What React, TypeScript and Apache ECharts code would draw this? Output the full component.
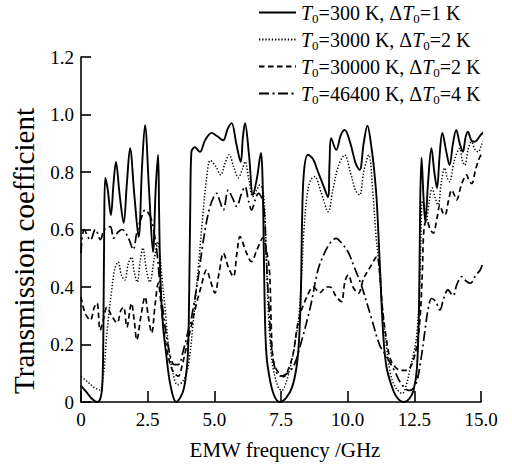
import React, { useEffect, useRef } from 'react';
import * as echarts from 'echarts';

const temps = ['300', '3000', '30000', '46400'];
const deltas = ['1', '2', '2', '4'];

const curveT300: number[][] = [
  [0, 0.056], [0.2, 0.035], [0.4, 0.012], [0.6, 0.0], [0.72, 0.01], [0.8, 0.06], [0.84, 0.25], [0.87, 0.6], [0.91, 0.78],
  [1.0, 0.74], [1.12, 0.65], [1.22, 0.76], [1.31, 0.835], [1.45, 0.72], [1.6, 0.623], [1.72, 0.76], [1.84, 0.883],
  [2.0, 0.72], [2.16, 0.574], [2.29, 0.82], [2.4, 0.963], [2.55, 0.74], [2.7, 0.522], [2.8, 0.74], [2.89, 0.86],
  [2.93, 0.65], [2.98, 0.42], [3.08, 0.26], [3.19, 0.17], [3.35, 0.06], [3.57, 0.0], [3.8, 0.03], [3.92, 0.08],
  [4.01, 0.17], [4.06, 0.4], [4.1, 0.7], [4.14, 0.87], [4.27, 0.886], [4.46, 0.87], [4.65, 0.91], [4.9, 0.936],
  [5.1, 0.925], [5.33, 0.91], [5.5, 0.95], [5.65, 0.97], [5.82, 0.9], [5.99, 0.835], [6.07, 0.92], [6.15, 0.97],
  [6.3, 0.86], [6.45, 0.72], [6.6, 0.78], [6.75, 0.866], [6.8, 0.8], [6.84, 0.63], [6.88, 0.38], [6.95, 0.17],
  [7.1, 0.07], [7.28, 0.015], [7.46, 0.0], [7.7, 0.015], [7.91, 0.05], [8.08, 0.12], [8.18, 0.22], [8.25, 0.4],
  [8.29, 0.63], [8.36, 0.8], [8.51, 0.86], [8.7, 0.845], [8.89, 0.8], [9.1, 0.75], [9.26, 0.713], [9.32, 0.83],
  [9.38, 0.918], [9.57, 0.877], [9.75, 0.93], [9.89, 0.946], [10.1, 0.9], [10.3, 0.83], [10.45, 0.807], [10.6, 0.9],
  [10.74, 0.961], [10.9, 0.88], [11.0, 0.8], [11.09, 0.7], [11.21, 0.47], [11.33, 0.24], [11.46, 0.12], [11.71, 0.04],
  [11.9, 0.01], [12.1, 0.0], [12.3, 0.01], [12.47, 0.04], [12.6, 0.12], [12.68, 0.355], [12.72, 0.7], [12.77, 0.85],
  [12.84, 0.72], [12.91, 0.627], [13.02, 0.77], [13.14, 0.883], [13.25, 0.8], [13.35, 0.744], [13.45, 0.86],
  [13.55, 0.936], [13.7, 0.87], [13.82, 0.824], [13.95, 0.9], [14.07, 0.946], [14.2, 0.9], [14.32, 0.87], [14.42, 0.92],
  [14.51, 0.94], [14.64, 0.91], [14.76, 0.905], [15.0, 0.93], [15.26, 0.953],
];

const curveT3000: number[][] = [
  [0, 0.088], [0.25, 0.07], [0.5, 0.05], [0.7, 0.042], [0.85, 0.1], [0.95, 0.22], [1.05, 0.31], [1.14, 0.38],
  [1.26, 0.46], [1.39, 0.487], [1.52, 0.44], [1.64, 0.424], [1.77, 0.48], [1.89, 0.504], [2.0, 0.45], [2.11, 0.417],
  [2.22, 0.49], [2.32, 0.536], [2.45, 0.46], [2.58, 0.417], [2.75, 0.5], [2.89, 0.557], [2.97, 0.5], [3.05, 0.42],
  [3.14, 0.337], [3.3, 0.18], [3.45, 0.1], [3.62, 0.06], [3.8, 0.07], [3.95, 0.1], [4.05, 0.14], [4.2, 0.27],
  [4.4, 0.47], [4.55, 0.63], [4.7, 0.77], [4.85, 0.84], [5.05, 0.82], [5.24, 0.79], [5.4, 0.83], [5.56, 0.86],
  [5.72, 0.82], [5.9, 0.78], [6.05, 0.81], [6.15, 0.836], [6.3, 0.77], [6.44, 0.714], [6.6, 0.74], [6.71, 0.755],
  [6.85, 0.72], [6.95, 0.5], [7.03, 0.3], [7.12, 0.18], [7.22, 0.11], [7.4, 0.05], [7.53, 0.04], [7.7, 0.07],
  [7.91, 0.146], [8.05, 0.22], [8.16, 0.285], [8.28, 0.45], [8.36, 0.6], [8.48, 0.72], [8.6, 0.77], [8.76, 0.784],
  [9.0, 0.73], [9.27, 0.662], [9.45, 0.74], [9.65, 0.82], [9.89, 0.859], [10.1, 0.8], [10.3, 0.735], [10.45, 0.72],
  [10.6, 0.8], [10.79, 0.859], [10.95, 0.72], [11.07, 0.57], [11.15, 0.5], [11.28, 0.35], [11.4, 0.24], [11.6, 0.1],
  [11.8, 0.05], [12.05, 0.03], [12.2, 0.06], [12.35, 0.12], [12.5, 0.18], [12.6, 0.24], [12.68, 0.36], [12.72, 0.47],
  [12.76, 0.62], [12.8, 0.7], [12.87, 0.68], [12.95, 0.627], [13.06, 0.7], [13.17, 0.744], [13.28, 0.71],
  [13.39, 0.685], [13.52, 0.77], [13.64, 0.814], [13.73, 0.78], [13.82, 0.766], [14.0, 0.84], [14.2, 0.882],
  [14.3, 0.84], [14.39, 0.824], [14.52, 0.88], [14.64, 0.905], [14.77, 0.88], [14.89, 0.87], [15.05, 0.9], [15.26, 0.929],
];

const curveT30000: number[][] = [
  [0, 0.366], [0.15, 0.31], [0.35, 0.285], [0.5, 0.33], [0.6, 0.344], [0.72, 0.25], [0.85, 0.29], [0.97, 0.33],
  [1.15, 0.3], [1.35, 0.275], [1.5, 0.32], [1.6, 0.33], [1.72, 0.26], [1.89, 0.344], [2.0, 0.28], [2.09, 0.216],
  [2.25, 0.3], [2.4, 0.366], [2.52, 0.3], [2.65, 0.24], [2.78, 0.34], [2.9, 0.414], [2.98, 0.36], [3.08, 0.27],
  [3.2, 0.19], [3.35, 0.13], [3.5, 0.1], [3.65, 0.09], [3.8, 0.13], [3.95, 0.19], [4.1, 0.25], [4.3, 0.33],
  [4.5, 0.4], [4.71, 0.459], [4.86, 0.42], [5.02, 0.379], [5.18, 0.45], [5.34, 0.518], [5.52, 0.47], [5.71, 0.436],
  [5.85, 0.52], [5.96, 0.575], [6.2, 0.52], [6.39, 0.488], [6.6, 0.53], [6.82, 0.57], [6.95, 0.53], [7.07, 0.453],
  [7.13, 0.28], [7.2, 0.15], [7.35, 0.11], [7.6, 0.088], [7.8, 0.12], [7.96, 0.17], [8.16, 0.285], [8.47, 0.366],
  [8.72, 0.4], [8.95, 0.38], [9.2, 0.4], [9.34, 0.4], [9.55, 0.37], [9.76, 0.349], [9.9, 0.42], [10.02, 0.442],
  [10.2, 0.4], [10.4, 0.378], [10.6, 0.43], [10.85, 0.47], [11.09, 0.505], [11.2, 0.45], [11.3, 0.33], [11.45, 0.22],
  [11.6, 0.15], [11.8, 0.12], [12.0, 0.11], [12.2, 0.11], [12.4, 0.13], [12.6, 0.2], [12.72, 0.3], [12.8, 0.45],
  [12.86, 0.6], [12.96, 0.633], [13.1, 0.6], [13.21, 0.587], [13.35, 0.64], [13.46, 0.685], [13.56, 0.66],
  [13.65, 0.65], [13.78, 0.7], [13.9, 0.737], [14.0, 0.72], [14.08, 0.703], [14.28, 0.76], [14.46, 0.79],
  [14.55, 0.77], [14.65, 0.76], [14.8, 0.81], [14.96, 0.853], [15.1, 0.87], [15.26, 0.9],
];

const curveT46400: number[][] = [
  [0, 0.518], [0.12, 0.6], [0.35, 0.563], [0.54, 0.6], [0.73, 0.565], [0.87, 0.6], [1.1, 0.61], [1.22, 0.57],
  [1.38, 0.59], [1.54, 0.6], [1.78, 0.57], [1.96, 0.53], [2.09, 0.588], [2.28, 0.645], [2.4, 0.668], [2.6, 0.645],
  [2.72, 0.6], [2.85, 0.52], [2.95, 0.42], [3.1, 0.3], [3.3, 0.18], [3.5, 0.13], [3.65, 0.13], [3.84, 0.18],
  [4.0, 0.24], [4.15, 0.297], [4.4, 0.436], [4.59, 0.563], [4.84, 0.68], [5.09, 0.726], [5.2, 0.7], [5.34, 0.668],
  [5.52, 0.737], [5.68, 0.71], [5.84, 0.68], [6.0, 0.72], [6.15, 0.749], [6.28, 0.7], [6.4, 0.668], [6.52, 0.7],
  [6.65, 0.726], [6.84, 0.69], [6.95, 0.5], [7.05, 0.33], [7.2, 0.15], [7.45, 0.09], [7.75, 0.1], [8.0, 0.13],
  [8.25, 0.205], [8.6, 0.33], [8.89, 0.46], [9.14, 0.52], [9.4, 0.56], [9.57, 0.569], [9.75, 0.555], [10.01, 0.523],
  [10.26, 0.466], [10.51, 0.407], [10.89, 0.292], [11.2, 0.198], [11.45, 0.16], [11.75, 0.11], [12.0, 0.065],
  [12.3, 0.04], [12.55, 0.06], [12.75, 0.15], [12.9, 0.25], [13.03, 0.33], [13.15, 0.36], [13.3, 0.35], [13.46, 0.32],
  [13.6, 0.36], [13.76, 0.39], [13.95, 0.37], [14.1, 0.41], [14.28, 0.436], [14.45, 0.42], [14.6, 0.413],
  [14.8, 0.44], [14.97, 0.459], [15.1, 0.49], [15.28, 0.518],
];

const curves = [curveT300, curveT3000, curveT30000, curveT46400];
const dashes: (string | number[])[] = ['solid', [1.3, 1.9], [5.5, 3.5], [10, 3.5, 2, 3.5]];
const widths = [1.9, 1.5, 1.7, 1.7];

const FONT = '"Liberation Serif", "Times New Roman", serif';

export default function App() {
  const ref = useRef<HTMLDivElement>(null);
  useEffect(() => {
    if (!ref.current) return;
    const chart = echarts.init(ref.current, undefined, { renderer: 'svg' });
    const names = temps.map((t, i) => `T0=${t} K, ΔT0=${deltas[i]} K`);
    const tickFmt = (v: number) => (v === 0 ? '0' : v.toFixed(1));
    chart.setOption({
      animation: false,
      backgroundColor: '#fff',
      grid: { left: 81, right: 31, top: 57, bottom: 65, containLabel: false },
      legend: {
        orient: 'vertical',
        left: 258,
        top: 0,
        padding: 0,
        itemWidth: 37,
        itemHeight: 24,
        itemGap: 2,
        align: 'left',
        data: names,
        itemStyle: { color: 'rgba(0,0,0,0)', borderWidth: 0, opacity: 0 },
        formatter: (name: string) => {
          const i = names.indexOf(name);
          return `{i|T}{s|0}{n|=${temps[i]} K, Δ}{i|T}{s|0}{n|=${deltas[i]} K}`;
        },
        textStyle: {
          fontFamily: FONT,
          fontSize: 20,
          color: '#000',
          rich: {
            i: { fontFamily: FONT, fontSize: 20, fontStyle: 'italic', color: '#000', lineHeight: 20 },
            n: { fontFamily: FONT, fontSize: 20, color: '#000', lineHeight: 20 },
            s: { fontFamily: FONT, fontSize: 13, color: '#000', lineHeight: 12, padding: [12, 0, 0, 0] },
          },
        },
      },
      xAxis: {
        type: 'value',
        min: 0,
        max: 15,
        interval: 2.5,
        axisLine: { show: true, lineStyle: { color: '#000', width: 1.6 } },
        axisTick: { show: true, inside: true, length: 11, lineStyle: { color: '#000', width: 1.6 } },
        splitLine: { show: false },
        axisLabel: { formatter: tickFmt, fontFamily: FONT, fontSize: 19, color: '#000', margin: 8 },
      },
      yAxis: {
        type: 'value',
        min: 0,
        max: 1.2,
        interval: 0.2,
        axisLine: { show: true, lineStyle: { color: '#000', width: 1.6 } },
        axisTick: { show: true, inside: true, length: 10, lineStyle: { color: '#000', width: 1.6 } },
        splitLine: { show: false },
        axisLabel: { formatter: tickFmt, fontFamily: FONT, fontSize: 19, color: '#000', margin: 7 },
      },
      graphic: [
        {
          type: 'text',
          x: 24,
          y: 251,
          rotation: Math.PI / 2,
          style: {
            text: 'Transmission coefficient',
            fontFamily: FONT,
            fontSize: 29,
            fill: '#000',
            textAlign: 'center',
            textVerticalAlign: 'middle',
          },
        },
        {
          type: 'text',
          x: 285,
          y: 450,
          style: {
            text: 'EMW frequency /GHz',
            fontFamily: FONT,
            fontSize: 21,
            fill: '#000',
            textAlign: 'center',
            textVerticalAlign: 'middle',
          },
        },
      ],
      series: curves.map((d, i) => ({
        name: names[i],
        type: 'line',
        data: d,
        symbol: 'none',
        smooth: 0.35,
        clip: false,
        lineStyle: { color: '#000', width: widths[i], type: dashes[i] },
        itemStyle: { color: '#000' },
        z: 10 - i,
      })),
    });
    return () => chart.dispose();
  }, []);
  return <div ref={ref} style={{ width: 512, height: 467, position: 'absolute', left: 0, top: 0 }} />;
}
